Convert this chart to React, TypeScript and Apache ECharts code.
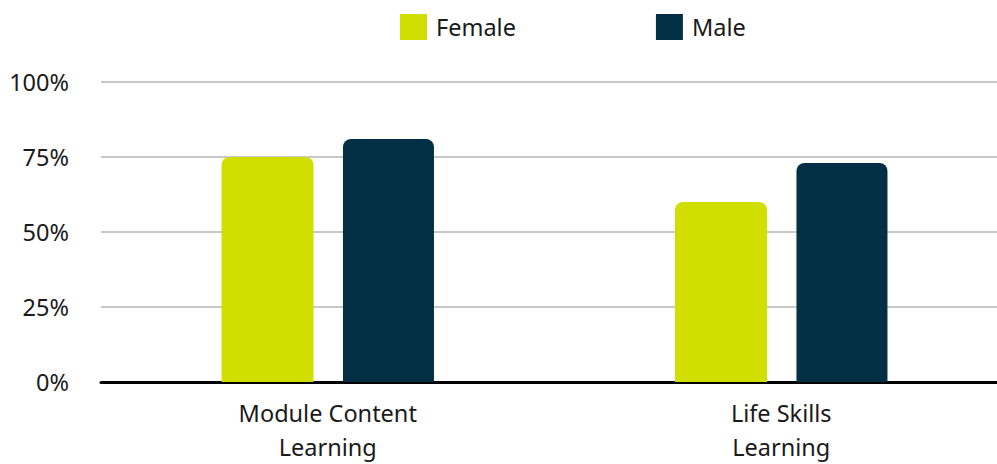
import React, { useEffect, useRef } from "react";
import * as echarts from "echarts";

const categories = ["Module Content\nLearning", "Life Skills\nLearning"];
const femaleValues = [75, 60];
const maleValues = [81, 73];
const seriesNames = ["Female", "Male"];
const yTicks = [0, 25, 50, 75, 100];

const FONT = "'Noto Sans', sans-serif";
const FS = 23.5;

export default function App() {
  const ref = useRef<HTMLDivElement>(null);
  useEffect(() => {
    if (!ref.current) return;
    const chart = echarts.init(ref.current, undefined, { renderer: "svg" });
    chart.setOption({
      animation: false,
      textStyle: { fontFamily: FONT },
      legend: {
        data: seriesNames,
        top: 14,
        left: 400,
        padding: 0,
        itemWidth: 27,
        itemHeight: 26,
        itemGap: 140,
        icon: "rect",
        textStyle: { fontSize: FS, color: "#1a1a1a", fontFamily: FONT, padding: [0, 0, 0, 4] },
      },
      grid: { left: 101, top: 82, right: 2, bottom: 81, containLabel: false },
      xAxis: {
        type: "category",
        data: categories,
        axisTick: { show: false },
        axisLine: { lineStyle: { color: "#000", width: 3 } },
        axisLabel: {
          fontSize: FS,
          color: "#1a1a1a",
          lineHeight: 34,
          margin: 14,
          fontFamily: FONT,
        },
      },
      yAxis: {
        type: "value",
        min: yTicks[0],
        max: yTicks[yTicks.length - 1],
        interval: 25,
        axisLine: { show: false },
        axisTick: { show: false },
        splitLine: { lineStyle: { color: "#c8c8c8", width: 2 } },
        axisLabel: {
          formatter: "{value}%",
          fontSize: FS,
          color: "#1a1a1a",
          margin: 32,
          fontFamily: FONT,
        },
      },
      series: [
        {
          name: seriesNames[0],
          type: "bar",
          data: femaleValues,
          barWidth: 92,
          barGap: "32%",
          itemStyle: { color: "#d1df00", borderRadius: [8, 8, 0, 0] },
        },
        {
          name: seriesNames[1],
          type: "bar",
          data: maleValues,
          barWidth: 91,
          itemStyle: { color: "#032f45", borderRadius: [8, 8, 0, 0] },
        },
      ],
    });
    return () => chart.dispose();
  }, []);
  return (
    <div style={{ position: "absolute", left: 0, top: 0, width: 997, height: 464, overflow: "hidden" }}>
      <div ref={ref} style={{ width: 1010, height: 464 }} />
    </div>
  );
}
